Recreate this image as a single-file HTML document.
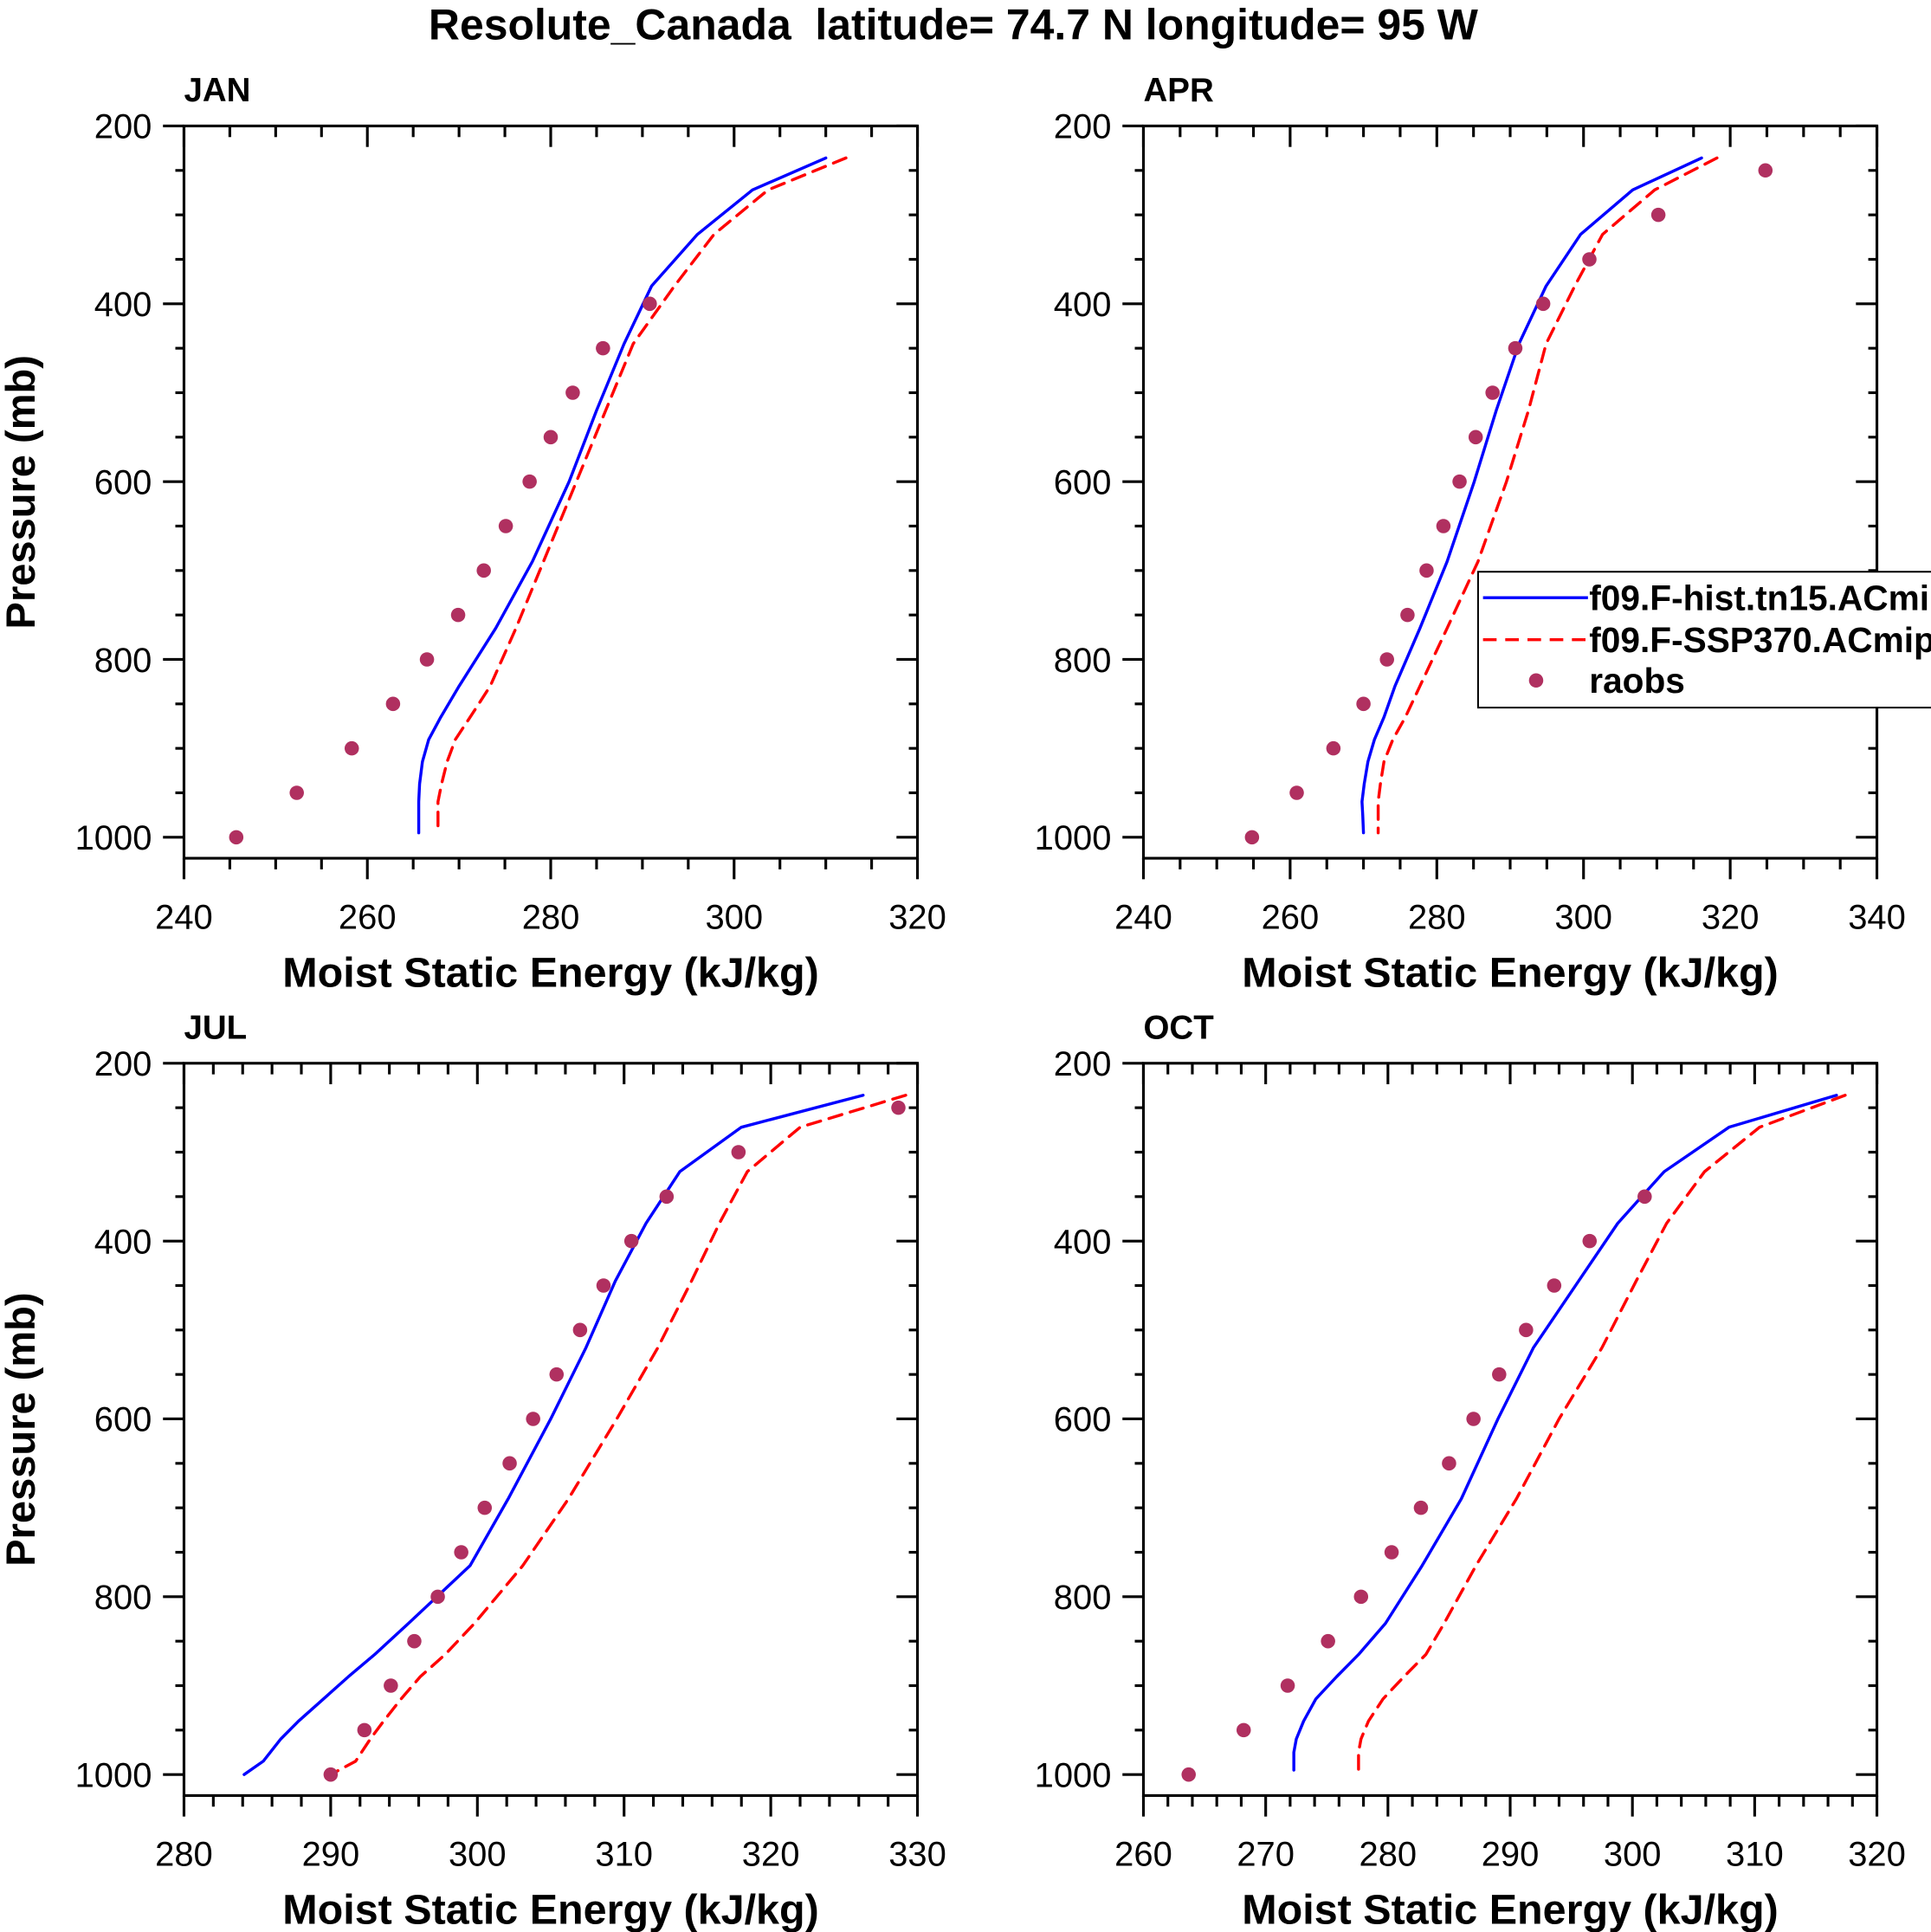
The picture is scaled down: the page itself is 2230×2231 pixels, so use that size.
<!DOCTYPE html>
<html><head><meta charset="utf-8"><style>
html,body{margin:0;padding:0;background:#fff;}
svg{display:block;font-family:"Liberation Sans",sans-serif;}
</style></head><body>
<svg id="chart" width="2230" height="2231" viewBox="0 0 1563.8 1564.5" xmlns="http://www.w3.org/2000/svg">
<rect width="1563.8" height="1564.5" fill="#fff"/>
<text x="772" y="32" text-anchor="middle" font-size="35" font-weight="bold" style="white-space:pre">Resolute_Canada  latitude= 74.7 N longitude= 95 W</text>
<g id="plots"></g>
</svg>
<script>
const modelP = [236,272,322,380,445,520,600,690,765,830,865,890,915,940,960,975,995];
const janBlue = [310,302,296,291,288,285,282,278,274,270,268,266.7,266,265.7,265.6,265.6,265.6];
const janRed  = [312.2,303.7,297.8,293.5,289,286,282.8,279.2,276.2,273.4,271.2,269.6,268.7,268.1,267.7,267.7,267.7];
const obsP = [250,300,350,400,450,500,550,600,650,700,750,800,850,900,950,1000];
const janObs = [null,null,null,290.8,285.7,282.4,280,277.7,275.1,272.7,269.9,266.5,262.8,258.3,252.3,245.7];
const aprBlue = [316.1,306.7,299.6,294.9,291.2,288.1,285.1,281.4,277.7,274.3,272.8,271.5,270.6,270.1,269.8,269.9,270];
const aprRed  = [318.2,309.7,302.6,298.8,294.9,292.5,289.5,285.6,281.4,277.7,275.7,274,272.8,272.3,272,272,272];
const aprObs = [324.8,310.2,300.8,294.5,290.7,287.6,285.3,283.1,280.9,278.6,276,273.2,270,265.9,260.9,254.8];
const julP = [236,272,322,380,445,520,600,690,765,830,865,890,915,940,960,985,1000];
const julBlue = [326.3,318,313.8,311.5,309.4,307.4,305,302.1,299.5,295.3,293,291.2,289.5,287.8,286.6,285.4,284.1];
const julRed  = [329.2,322,318.4,316.5,314.6,312.3,309.5,306.2,303.1,299.8,297.8,296.1,294.8,293.6,292.7,291.7,290];
const julObs = [328.7,317.8,312.9,310.5,308.6,307,305.4,303.8,302.2,300.5,298.9,297.3,295.7,294.1,292.3,290];
const octBlue = [316.7,307.9,302.6,298.8,295.6,291.9,289,286,282.8,279.8,277.6,275.8,274.1,273.1,272.5,272.3,272.3];
const octRed  = [317.4,310.4,305.9,302.8,300.3,297.5,294,290.5,287.2,284.6,283.1,281.3,279.6,278.4,277.8,277.6,277.6];
const octObs = [null,null,301,296.5,293.6,291.3,289.1,287,285,282.7,280.3,277.8,275.1,271.8,268.2,263.7];
const yTickLabels = [200,400,600,800,1000];

const panels = [
 {name:'jan',label:'JAN',x0:149,top:102,xmin:240,xmax:320,major:20,minor:5,lp:modelP,blue:janBlue,red:janRed,obs:janObs,ylabel:true},
 {name:'apr',label:'APR',x0:926,top:102,xmin:240,xmax:340,major:20,minor:5,lp:modelP,blue:aprBlue,red:aprRed,obs:aprObs,ylabel:false,legend:true},
 {name:'jul',label:'JUL',x0:149,top:861,xmin:280,xmax:330,major:10,minor:2,lp:julP,blue:julBlue,red:julRed,obs:julObs,ylabel:true},
 {name:'oct',label:'OCT',x0:926,top:861,xmin:260,xmax:320,major:10,minor:2,lp:modelP,blue:octBlue,red:octRed,obs:octObs,ylabel:false}
];
const NS='http://www.w3.org/2000/svg';
const root=document.getElementById('plots');
function mk(tag,attrs,parent){const e=document.createElementNS(NS,tag);for(const k in attrs)e.setAttribute(k,attrs[k]);(parent||root).appendChild(e);return e;}
const W=594, PPM=0.72, SW=2.2;
panels.forEach(p=>{
 const g=mk('g',{});
 
 
 const X=v=>p.x0+(v-p.xmin)/(p.xmax-p.xmin)*W;
 const Y=v=>p.top+(v-200)*PPM;
 const bottom=Y(1023.6);
 const fr=mk('rect',{x:p.x0,y:p.top,width:W,height:bottom-p.top,fill:'none',stroke:'#000','stroke-width':SW},g);
 
 
 for(let v=200;v<=1000;v+=50){
  const maj=v%200===0, L=maj?17:7;
  mk('line',{x1:p.x0-L,x2:p.x0,y1:Y(v),y2:Y(v),stroke:'#000','stroke-width':SW},g);
  mk('line',{x1:p.x0+W,x2:p.x0+W-L,y1:Y(v),y2:Y(v),stroke:'#000','stroke-width':SW},g);
 }
 yTickLabels.forEach(v=>{
  const t=mk('text',{x:p.x0-26,y:Y(v)+10,'text-anchor':'end','font-size':28},g);t.textContent=v;
  
  
 });
 for(let v=p.xmin;v<=p.xmax+1e-6;v+=p.minor){
  const maj=Math.abs((v-p.xmin)%p.major)<1e-6, L=maj?17:9;
  mk('line',{x1:X(v),x2:X(v),y1:bottom,y2:bottom+L,stroke:'#000','stroke-width':SW},g);
  mk('line',{x1:X(v),x2:X(v),y1:p.top,y2:p.top+L,stroke:'#000','stroke-width':SW},g);
  if(maj){const t=mk('text',{x:X(v),y:bottom+57,'text-anchor':'middle','font-size':28},g);t.textContent=v;
   
   }
 }
 const xt=mk('text',{x:p.x0+W/2,y:bottom+104,'text-anchor':'middle','font-size':34,'font-weight':'bold'},g);
 xt.textContent='Moist Static Energy (kJ/kg)';
 
 
 const pl=mk('text',{x:p.x0,y:p.top-20,'font-size':27,'font-weight':'bold'},g);
 pl.textContent=p.label;
 
 
 if(p.ylabel){
  const cy=p.top+(bottom-p.top)/2;
  const yt=mk('text',{x:28,y:cy,'text-anchor':'middle','font-size':33,'font-weight':'bold',transform:'rotate(-90 28 '+cy+')'},g);
  yt.textContent='Pressure (mb)';
  
  
 }
 const pts=arr=>arr.map((v,i)=>X(v).toFixed(1)+','+Y(p.lp[i]).toFixed(1)).join(' ');
 const bl=mk('polyline',{points:pts(p.blue),fill:'none',stroke:'#0000ff','stroke-width':2.4,'stroke-linejoin':'round','stroke-linecap':'round'},g);
 
 
 const rl=mk('polyline',{points:pts(p.red),fill:'none',stroke:'#ff0000','stroke-width':2.4,'stroke-dasharray':'11,7','stroke-linecap':'round'},g);
 
 
 p.obs.forEach((v,i)=>{ if(v===null)return;
  const c=mk('circle',{cx:X(v),cy:Y(obsP[i]),r:5.8,fill:'#b03060'},g);
  
  
 });
 if(p.legend){
  const lg=mk('g',{},g);
  
  
  mk('rect',{x:1197,y:463,width:380,height:110,fill:'#fff',stroke:'#000','stroke-width':1.4},lg);
  const e1=mk('line',{x1:1201,x2:1286,y1:484,y2:484,stroke:'#0000ff','stroke-width':2.4},lg);
  
  
  const e2=mk('line',{x1:1201,x2:1286,y1:518,y2:518,stroke:'#ff0000','stroke-width':2.4,'stroke-dasharray':'11,7'},lg);
  
  
  const e3=mk('circle',{cx:1244,cy:551,r:5.8,fill:'#b03060'},lg);
  
  
  [['f09.F-hist.tn15.ACmip',494],['f09.F-SSP370.ACmip',528],['raobs',561]].forEach(a=>{
   const t=mk('text',{x:1287,y:a[1],'font-size':28.5,'font-weight':'bold'},lg);t.textContent=a[0];
   
   
  });
 }
});
</script>
</body></html>
